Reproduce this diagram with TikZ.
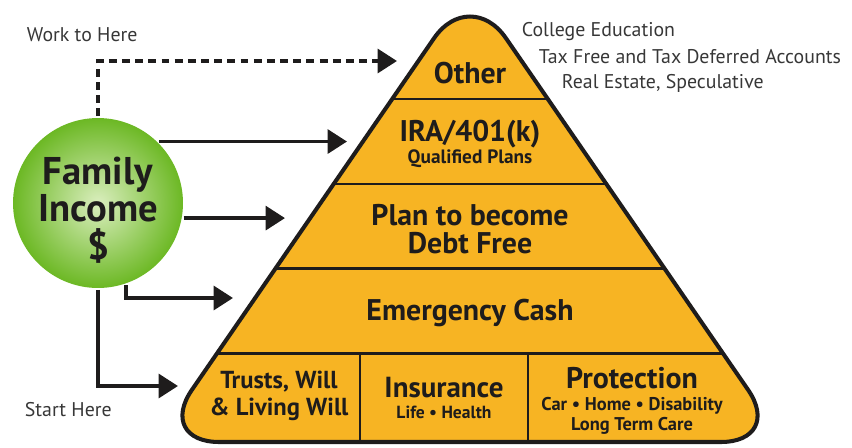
\documentclass[tikz,border=0pt]{standalone}
\usepackage{fontspec}
\setmainfont{PT Sans}
\usetikzlibrary{arrows.meta}
\usetikzlibrary{positioning}
\usetikzlibrary{calc}
\definecolor{pyrorange}{RGB}{247,180,35}
\definecolor{inkdark}{RGB}{30,28,28}
\definecolor{labelgray}{RGB}{55,55,55}
\definecolor{ballgreen}{RGB}{108,184,36}
\definecolor{ballpale}{RGB}{218,238,190}
\tikzset{every picture/.style={line width=2.2pt},
  flow/.style={draw=inkdark,-{Triangle[length=11pt,width=13.5pt]}},
  todo/.style={flow,dash pattern=on 4.5pt off 3pt},
  ball/.style={circle,minimum size=3.4cm,inner sep=0pt,shading=radial,inner color=ballpale,outer color=ballgreen},
  balltext/.style={text=inkdark,align=center,font=\bfseries\fontsize{22}{21.5}\selectfont},
  tier/.style={text=inkdark,align=center,font=\bfseries\fontsize{17}{16}\selectfont},
  subtier/.style={text=inkdark,align=center,inner sep=0pt,font=\bfseries\fontsize{10.5}{12}\selectfont},
  note/.style={text=labelgray,anchor=west,inner sep=0pt,font=\fontsize{11.3}{13}\selectfont}}

\begin{document}
\begin{tikzpicture}[x=0.02cm,y=-0.02cm]
\useasboundingbox (0,0) rectangle (852,447);
\fill[pyrorange,rounded corners=36] (470,442) -- (156,442) -- (470,-14) -- (784,442) -- cycle;
\begin{scope}
\clip[rounded corners=36] (470,442) -- (156,442) -- (470,-14) -- (784,442) -- cycle;
\foreach \y in {99, 184, 268, 353} {
\draw[inkdark,line width=1.7pt] (100,\y) -- (840,\y);
}
\draw[inkdark,line width=1.7pt] (360,353) -- (360,450);
\draw[inkdark,line width=1.7pt] (528,353) -- (528,450);
\end{scope}
\draw[inkdark,line width=2.3pt,rounded corners=36] (470,442) -- (156,442) -- (470,-14) -- (784,442) -- cycle;

\node (other) at (470,73) [tier] {Other};
\node (ira) at (470,134) [tier] {IRA/401(k)};
\node (iraq) [below of = ira, node distance = 0.5cm, subtier, font=\bfseries\fontsize{11}{12}\selectfont] {Qualified Plans};
\node (debt) at (470,229) [tier] {Plan to become\\Debt Free};
\node (cash) at (470,313) [tier] {Emergency Cash};
\node (trust) at (279,396) [tier, font=\bfseries\fontsize{14}{15}\selectfont] {Trusts, Will\\\& Living Will};
\node (insur) at (444,388) [tier, font=\bfseries\fontsize{16.5}{17}\selectfont] {Insurance};
\node (insurq) [below of = insur, node distance = 0.48cm, subtier, font=\bfseries\fontsize{10}{12}\selectfont] {Life \textbullet{} Health};
\node (prot) at (632,378) [tier, inner sep=0pt] {Protection};
\node (protq) [below of = prot, node distance = 0.75cm, subtier, font=\bfseries\fontsize{10.5}{11.5}\selectfont] {Car \textbullet{} Home \textbullet{} Disability\\Long Term Care};

\node (fam) at (98,203) [ball] {};
\node (famtxt) at (98,210) [balltext] {Family\\Income\\\$};

\node (work) at (25,35) [note] {Work to Here};
\node (start) at (23,410) [note] {Start Here};
\node (col) at (520,32) [note] {College Education};
\node (tax) at (537,57) [note] {Tax Free and Tax Deferred Accounts};
\node (real) at (560,83) [note] {Real Estate, Speculative};

\coordinate (t1) at (397,61);
\coordinate (t2) at (347,143);
\coordinate (t3) at (285,218);
\coordinate (t4) at (233,298);
\coordinate (t5) at (178,386);
\draw[todo] (fam.north) |- (t1);
\draw[flow] (fam.45) -- (fam.45 -| t2);
\draw[flow] (fam.-10) -- (fam.-10 -| t3);
\draw[flow] (fam.-71) |- (t4);
\draw[flow] (fam.south) |- (t5);
\end{tikzpicture}
\end{document}
